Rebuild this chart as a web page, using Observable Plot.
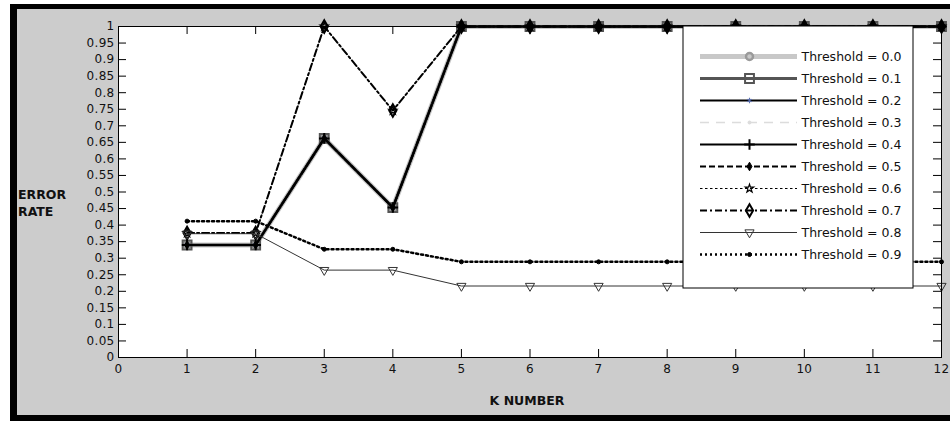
<!DOCTYPE html>
<html><head><meta charset="utf-8">
<script src="https://cdn.jsdelivr.net/npm/d3@7"></script>
<script src="https://cdn.jsdelivr.net/npm/@observablehq/plot@0.6"></script>
<style>
html,body{margin:0;background:#fff;overflow:hidden;}
#wrap{position:relative;width:950px;height:421px;overflow:hidden;font-family:"DejaVu Sans",sans-serif;}
#blk{position:absolute;left:10px;top:4px;width:1000px;height:417px;background:#000;}
#gry{position:absolute;left:17px;top:9px;width:1000px;height:406px;background:#cccccc;}
#chart{position:absolute;left:0;top:0;}
#legend{position:absolute;left:682px;top:25px;}
.lab{position:absolute;font-weight:bold;font-size:12.5px;color:#111;line-height:17px;}
</style></head><body>
<div id="wrap"><div id="blk"></div><div id="gry"></div><div id="chart"></div><div id="legend"></div>
<div class="lab" style="left:18px;top:186px;">ERROR<br>RATE</div>
<div class="lab" style="left:427px;width:200px;text-align:center;top:392px;">K NUMBER</div>
</div>
<script>
// ---- data ----
const K = [1, 2, 3, 4, 5, 6, 7, 8, 9, 10, 11, 12];
const names = ["Threshold = 0.0","Threshold = 0.1","Threshold = 0.2","Threshold = 0.3","Threshold = 0.4",
               "Threshold = 0.5","Threshold = 0.6","Threshold = 0.7","Threshold = 0.8","Threshold = 0.9"];
const thr00 = [0.34, 0.34, 0.662, 0.453, 1, 1, 1, 1, 1, 1, 1, 1];
const thr01 = [0.34, 0.34, 0.662, 0.453, 1, 1, 1, 1, 1, 1, 1, 1];
const thr02 = [0.34, 0.34, 0.662, 0.453, 1, 1, 1, 1, 1, 1, 1, 1];
const thr03 = [0.34, 0.34, 0.662, 0.453, 1, 1, 1, 1, 1, 1, 1, 1];
const thr04 = [0.34, 0.34, 0.662, 0.453, 1, 1, 1, 1, 1, 1, 1, 1];
const thr05 = [0.34, 0.34, 0.662, 0.453, 1, 1, 1, 1, 1, 1, 1, 1];
const thr06 = [0.376, 0.376, 1, 0.746, 1, 1, 1, 1, 1, 1, 1, 1];
const thr07 = [0.376, 0.376, 1, 0.746, 1, 1, 1, 1, 1, 1, 1, 1];
const thr08 = [0.374, 0.374, 0.264, 0.264, 0.216, 0.216, 0.216, 0.216, 0.216, 0.216, 0.216, 0.216];
const thr09 = [0.412, 0.412, 0.327, 0.327, 0.289, 0.289, 0.289, 0.289, 0.289, 0.289, 0.289, 0.289];
const xTicks = [0, 1, 2, 3, 4, 5, 6, 7, 8, 9, 10, 11, 12];
const yTicks = [0, 0.05, 0.1, 0.15, 0.2, 0.25, 0.3, 0.35, 0.4, 0.45, 0.5, 0.55, 0.6, 0.65, 0.7, 0.75, 0.8, 0.85, 0.9, 0.95, 1];
const yTickLabels = ["0","0.05","0.1","0.15","0.2","0.25","0.3","0.35","0.4","0.45","0.5","0.55","0.6","0.65","0.7","0.75","0.8","0.85","0.9","0.95","1"];

// ---- styles ----
const values = [thr00, thr01, thr02, thr03, thr04, thr05, thr06, thr07, thr08, thr09];
const styles = [
  {stroke:"#c8c8c8", sw:5, dash:null, symbol:"circle", r:3.5, ms:"#9a9a9a", mf:"none", msw:2.5},
  {stroke:"#555555", sw:3, dash:null, symbol:"square", r:5, ms:"#555555", mf:"none", msw:2},
  {stroke:"#000000", sw:2, dash:null, symbol:"asterisk", r:2.5, ms:"#5a6fb0", mf:"none", msw:1.2},
  {stroke:"#dcdcdc", sw:1.5, dash:"9,7", symbol:"circle", r:1.5, ms:"#dcdcdc", mf:"#dcdcdc", msw:1},
  {stroke:"#000000", sw:2, dash:null, symbol:"plus", r:3.5, ms:"#000000", mf:"none", msw:2},
  {stroke:"#000000", sw:2, dash:"6,3", symbol:"diamond", r:2.6, ms:"#000000", mf:"#000000", msw:1},
  {stroke:"#000000", sw:1, dash:"2.5,2.5", symbol:"star", r:2.6, ms:"#000000", mf:"none", msw:1.2},
  {stroke:"#000000", sw:2, dash:"7,3,2,3", symbol:"diamond", r:3.8, ms:"#000000", mf:"none", msw:2},
  {stroke:"#333333", sw:1, dash:null, symbol:"triangle", r:3.4, ms:"#333333", mf:"none", msw:1, rotate:180},
  {stroke:"#000000", sw:2.5, dash:"2,3", symbol:"circle", r:2, ms:"#000000", mf:"#000000", msw:1}
];
const series = names.map((name, i) => ({name, data: K.map((k, j) => ({k, v: values[i][j]})), st: styles[i]}));

const W = 950, H = 421, mL = 118, mR = 9, mT = 26, mB = 64;
const pw = W - mL - mR, ph = H - mT - mB;
const FONT = "'DejaVu Sans', sans-serif";

const marks = [Plot.frame({fill: "white"})];
for (const s of series) {
  const st = s.st;
  marks.push(Plot.line(s.data, {x: "k", y: "v", stroke: st.stroke, strokeWidth: st.sw, strokeDasharray: st.dash, strokeLinejoin: "miter"}));
  marks.push(Plot.dot(s.data, {x: "k", y: "v", symbol: st.symbol, r: st.r, stroke: st.ms, fill: st.mf, strokeWidth: st.msw, rotate: st.rotate || 0}));
}
marks.push(
  Plot.frame({stroke: "black", strokeWidth: 1}),
  Plot.tickY(yTicks, {y: d => d, insetRight: pw - 8, stroke: "black"}),
  Plot.tickY(yTicks, {y: d => d, insetLeft: pw - 8, stroke: "black"}),
  Plot.tickX(xTicks, {x: d => d, insetTop: ph - 8, stroke: "black"}),
  Plot.tickX(xTicks, {x: d => d, insetBottom: ph - 8, stroke: "black"}),
  Plot.axisY({ticks: yTicks, tickFormat: d => yTickLabels[yTicks.indexOf(d)], tickSize: 0, tickPadding: 4, label: null, fontSize: 12, fill: "#111"}),
  Plot.axisX({ticks: xTicks, tickFormat: d => String(d), tickSize: 0, tickPadding: 7, label: null, fontSize: 12, fill: "#111"})
);

const chart = Plot.plot({
  width: W, height: H,
  marginLeft: mL, marginRight: mR, marginTop: mT, marginBottom: mB,
  x: {domain: [0, 12]},
  y: {domain: [0, 1]},
  style: {background: "transparent", fontFamily: FONT, fontSize: "12px", overflow: "visible", letterSpacing: "0.3px"},
  marks
});
document.getElementById("chart").appendChild(chart);

// ---- legend ----
const LW = 231, LH = 263;
const lmarks = [Plot.frame({fill: "white", stroke: "black", inset: 0.5})];
for (const s of series) {
  const st = s.st;
  lmarks.push(Plot.ruleY([s.name], {y: d => d, x1: 18, x2: 115, stroke: st.stroke, strokeWidth: st.sw, strokeDasharray: st.dash}));
  lmarks.push(Plot.dot([s.name], {x: 67, y: d => d, symbol: st.symbol, r: st.r, stroke: st.ms, fill: st.mf, strokeWidth: st.msw, rotate: st.rotate || 0}));
}
lmarks.push(Plot.text(names, {x: 119, y: d => d, text: d => d, textAnchor: "start", fontSize: 12.5, fill: "#111"}));
const legend = Plot.plot({
  width: LW, height: LH, margin: 0,
  x: {domain: [0, LW], range: [0, LW], axis: null},
  y: {type: "point", domain: names, range: [17, 243], axis: null},
  style: {background: "transparent", fontFamily: FONT, fontSize: "12px", overflow: "visible"},
  marks: lmarks
});
document.getElementById("legend").appendChild(legend);
</script>
</body></html>
